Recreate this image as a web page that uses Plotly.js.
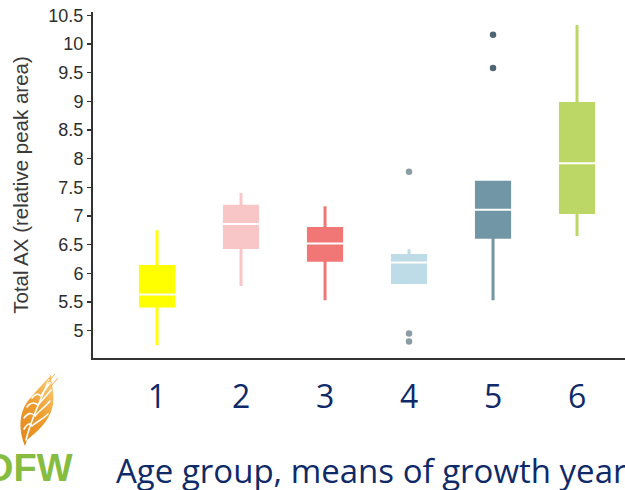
<!DOCTYPE html>
<html>
<head>
<meta charset="utf-8">
<script src="https://cdn.plot.ly/plotly-3.0.1.min.js"></script>
<style>
  html, body { margin: 0; padding: 0; background: #ffffff; overflow: hidden; }
  #chart { width: 625px; height: 490px; }
</style>
</head>
<body>
<div id="chart"></div>
<script>
// Age groups on the x axis
const groups = ['1', '2', '3', '4', '5', '6'];
const groupLabels = ['1', '2', '3', '4', '5', '6'];

// Box statistics of total AX (relative peak area) per age group
const lowerWhisker = [4.75, 5.78, 5.53, 5.84, 5.53, 6.65];
const q1Values     = [5.43, 6.45, 6.23, 5.84, 6.63, 7.06];
const medianValues = [5.63, 6.86, 6.52, 6.19, 7.11, 7.92];
const q3Values     = [6.12, 7.17, 6.78, 6.31, 7.59, 8.96];
const upperWhisker = [6.75, 7.40, 7.17, 6.42, 7.61, 10.33];

// Outlying samples
const outlierGroups = ['4', '4', '4', '5', '5'];
const outlierValues = [7.77, 4.95, 4.81, 10.16, 9.58];

// Y axis ticks
const yTickValues = [5, 5.5, 6, 6.5, 7, 7.5, 8, 8.5, 9, 9.5, 10, 10.5];
const yTickLabels = ['5', '5.5', '6', '6.5', '7', '7.5', '8', '8.5', '9', '9.5', '10', '10.5'];

// Styling
const boxColors = ['#FFFF00', '#F9C6C7', '#F17676', '#BEDCE8', '#7196A6', '#BCD766'];
const outlierColorFor = { '4': '#8A9CA5', '5': '#4E6673' };
const navy = '#0F2A68';

const traces = groups.map((g, i) => ({
  type: 'box',
  orientation: 'v',
  x: [g],
  q1: [q1Values[i]],
  median: [medianValues[i]],
  q3: [q3Values[i]],
  lowerfence: [lowerWhisker[i]],
  upperfence: [upperWhisker[i]],
  width: 0.395,
  whiskerwidth: 0,
  boxpoints: false,
  line: { color: boxColors[i], width: 3 },
  fillcolor: boxColors[i],
  hoverinfo: 'skip',
  showlegend: false
}));

// White median bars drawn across each box
traces.push({
  type: 'scatter',
  mode: 'markers',
  x: groups,
  y: medianValues,
  marker: {
    symbol: 'line-ew-open',
    size: 35,
    color: '#ffffff',
    line: { color: '#ffffff', width: 2 }
  },
  hoverinfo: 'skip',
  showlegend: false
});

// Outlier points
traces.push({
  type: 'scatter',
  mode: 'markers',
  x: outlierGroups,
  y: outlierValues,
  marker: {
    symbol: 'circle',
    size: 6.5,
    color: outlierGroups.map(g => outlierColorFor[g])
  },
  hoverinfo: 'skip',
  showlegend: false
});

// Wheat ear emblem: a leaf-shaped ear with white grain cuts
const wheatSvg =
  '<svg xmlns="http://www.w3.org/2000/svg" viewBox="0 0 40 72">' +
  '<defs><linearGradient id="g" x1="0" y1="1" x2="0.6" y2="0">' +
  '<stop offset="0" stop-color="#E2861C"/><stop offset="0.6" stop-color="#EE9D2E"/>' +
  '<stop offset="1" stop-color="#F7C266"/>' +
  '</linearGradient></defs>' +
  '<path d="M7 72 C 1 58, 0 40, 10 27 C 16 19, 24 11, 33 1 C 33 11, 38 22, 34 35 C 30 48, 20 57, 9 66 Z" fill="url(#g)"/>' +
  '<g fill="none" stroke="#ffffff" stroke-width="1.6" stroke-linecap="round">' +
  '<path d="M8 66 C 12 50, 18 36, 31 6"/>' +
  '<path d="M6 55 C 9 50, 12 48, 14 52 C 18 48, 24 46, 30 40"/>' +
  '<path d="M6 44 C 10 39, 13 38, 17 42 C 21 37, 27 33, 32 27"/>' +
  '<path d="M9 33 C 13 28, 16 28, 20 31 C 24 26, 28 22, 33 16"/>' +
  '<path d="M14 24 C 17 20, 20 19, 23 22 C 26 17, 29 13, 32 9"/>' +
  '</g>' +
  '<path d="M30 8 L37 0 M33 12 L40 4" stroke="#F3B04A" stroke-width="1"/>' +
  '</svg>';

const layout = {
  width: 625,
  height: 490,
  margin: { l: 93, r: 0, t: 12, b: 132 },
  paper_bgcolor: '#ffffff',
  plot_bgcolor: '#ffffff',
  showlegend: false,
  boxmode: 'overlay',
  xaxis: {
    type: 'category',
    categoryorder: 'array',
    categoryarray: groups,
    tickvals: groups,
    ticktext: groupLabels,
    range: [-0.762, 5.571],
    showline: true,
    linecolor: '#333333',
    linewidth: 2,
    ticks: '',
    showgrid: false,
    zeroline: false,
    ticklabelstandoff: 10,
    tickfont: { family: '"Open Sans", sans-serif', size: 32, color: navy },
    fixedrange: true
  },
  yaxis: {
    range: [4.524, 10.557],
    tickvals: yTickValues,
    ticktext: yTickLabels,
    showline: true,
    linecolor: '#333333',
    linewidth: 2,
    ticks: 'outside',
    ticklen: 4,
    tickwidth: 1.5,
    tickcolor: '#333333',
    showgrid: false,
    zeroline: false,
    tickfont: { family: '"Liberation Sans", Arial, sans-serif', size: 18, color: '#2E2E2E' },
    title: {
      text: 'Total AX (relative peak area)',
      font: { family: '"Liberation Sans", Arial, sans-serif', size: 20.5, color: '#3A3A3A' },
      standoff: 14
    },
    fixedrange: true
  },
  annotations: [
    {
      xref: 'paper', yref: 'paper',
      x: (115 - 93) / 532, y: (358 - 470) / 346,
      xanchor: 'left', yanchor: 'middle',
      text: 'Age group, means of growth year',
      showarrow: false,
      borderpad: 0,
      font: { family: '"Open Sans", sans-serif', size: 33, color: navy }
    },
    {
      xref: 'paper', yref: 'paper',
      x: (-15 - 93) / 532, y: (358 - 468) / 346,
      xanchor: 'left', yanchor: 'middle',
      text: '<b>DFW</b>',
      showarrow: false,
      borderpad: 0,
      font: { family: '"Liberation Sans", Arial, sans-serif', size: 38, color: '#86BC3F' }
    }
  ],
  images: [
    {
      source: 'data:image/svg+xml;base64,' + btoa(wheatSvg),
      xref: 'paper', yref: 'paper',
      x: (18 - 93) / 532, y: (358 - 374) / 346,
      sizex: 40 / 532, sizey: 72 / 346,
      xanchor: 'left', yanchor: 'top',
      sizing: 'stretch',
      layer: 'above'
    }
  ]
};

Plotly.newPlot('chart', traces, layout, { displayModeBar: false, staticPlot: true });
</script>
</body>
</html>
